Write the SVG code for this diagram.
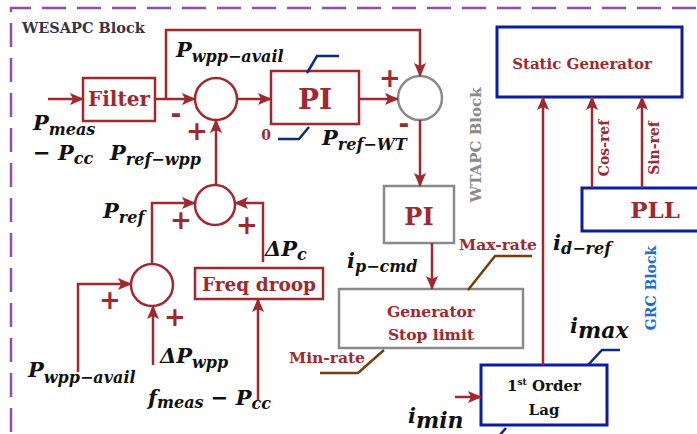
<svg xmlns="http://www.w3.org/2000/svg" width="697" height="434" viewBox="0 0 697 434">
<style>
.bd{fill:none;stroke:#8e4fb5;stroke-width:2.5;stroke-dasharray:24 11}
.rb{fill:#fff;stroke:#a0282e;stroke-width:2.5}
.gb{fill:#fff;stroke:#8a8a8a;stroke-width:2.5}
.bb{fill:#fff;stroke:#0b1f9e;stroke-width:3}
.w{fill:none;stroke:#a0282e;stroke-width:2.5}
.lim{fill:none;stroke:#0d2a80;stroke-width:2.5}
.br{fill:none;stroke:#7a3d0a;stroke-width:2.5}
.t{font-family:"DejaVu Serif",serif;font-weight:bold;fill:#a0282e;text-anchor:middle}
.k{font-family:"DejaVu Serif",serif;font-weight:bold;fill:#111;text-anchor:middle}
.m{font-family:"DejaVu Serif",serif;font-weight:bold;font-style:italic;fill:#111;font-size:21px}
.s{font-size:16px}
.sg{font-family:"DejaVu Sans",sans-serif;font-weight:bold;fill:#a0282e;font-size:26px;text-anchor:middle;dominant-baseline:central}
</style>
<defs>
<marker id="ar" markerUnits="userSpaceOnUse" markerWidth="14" markerHeight="12" refX="13" refY="6" orient="auto">
<path d="M0,0 L14,6 L0,12 L3,6 Z" fill="#a0282e"/>
</marker>
</defs>

<path class="bd" d="M11,432 V8 H697"/>
<text x="22" y="33" font-family="DejaVu Serif,serif" font-weight="bold" font-size="14.5" fill="#3b3148">WESAPC Block</text>

<g id="filter"><rect class="rb" x="83" y="78" width="72" height="43"/><text class="t" x="119" y="106" font-size="20">Filter</text></g>
<g id="sum1"><circle class="rb" cx="216" cy="99" r="21"/></g>
<g id="pi1"><rect class="rb" x="271" y="71" width="88" height="53"/><text class="t" x="315" y="109" font-size="28">PI</text>
<path class="lim" d="M307,73 L317,56 H339"/><path class="lim" d="M309,127 L299,139 H278"/>
<text class="t" x="266" y="140" font-size="14">0</text></g>
<g id="sum2"><circle cx="420" cy="98" r="22" fill="#fff" stroke="#8a8a8a" stroke-width="2.5"/></g>
<g id="pi2"><rect class="gb" x="384" y="186" width="70" height="57"/><text class="t" x="419" y="225" font-size="24">PI</text></g>
<g id="gen"><rect class="gb" x="339" y="289" width="184" height="59"/>
<text class="t" x="431" y="317" font-size="15.5">Generator</text><text class="t" x="431" y="340" font-size="15.5">Stop limit</text>
<path class="br" d="M468,290 L495,256 H532"/><text class="t" x="498" y="250" font-size="15.5">Max-rate</text>
<path class="br" d="M384,350 L358,373 H320"/><text class="t" x="327" y="363" font-size="15.5">Min-rate</text></g>
<text class="t" transform="translate(481,145) rotate(-90)" font-size="15" style="fill:#8a8a8a">WTAPC Block</text>
<g id="static"><rect class="bb" x="497" y="27" width="185" height="70"/><text class="t" x="582" y="69" font-size="15">Static Generator</text></g>
<g id="pll"><rect class="bb" x="582" y="188" width="125" height="43"/><text class="t" x="655" y="218" font-size="23">PLL</text></g>
<g id="lag"><rect class="bb" x="481" y="365" width="126" height="60"/>
<text class="k" x="544" y="391" font-size="15">1<tspan font-size="9" dy="-6">st</tspan><tspan dy="6"> Order</tspan></text>
<text class="k" x="544" y="415" font-size="15">Lag</text>
<path class="lim" d="M588,365 L602,350 H620"/><path class="lim" d="M506,428 L499,436"/></g>
<text class="t" transform="translate(656,288) rotate(-90)" font-size="14" style="fill:#1a6fd0">GRC Block</text>
<g id="sum3"><circle class="rb" cx="215" cy="205" r="20"/></g>
<g id="sum4"><circle class="rb" cx="152" cy="285" r="21"/></g>
<g id="droop"><rect class="rb" x="195" y="268" width="128" height="31"/><text class="t" x="259" y="291" font-size="18.5">Freq droop</text></g>

<g id="connectors">
<path class="w" d="M48,99 H83" marker-end="url(#ar)"/>
<path class="w" d="M155,99 H195" marker-end="url(#ar)"/>
<path class="w" d="M166,99 V30 H420 V76" marker-end="url(#ar)"/>
<path class="w" d="M237,99 H271" marker-end="url(#ar)"/>
<path class="w" d="M359,99 H398" marker-end="url(#ar)"/>
<path class="w" d="M420,120 V186" marker-end="url(#ar)"/>
<path class="w" d="M432,243 V289" marker-end="url(#ar)"/>
<path class="w" d="M543,365 V97" marker-end="url(#ar)"/>
<path class="w" d="M592,188 V97" marker-end="url(#ar)"/>
<path class="w" d="M642,188 V97" marker-end="url(#ar)"/>
<path class="w" d="M455,397 H481" marker-end="url(#ar)"/>
<path class="w" d="M216,185 V120" marker-end="url(#ar)"/>
<path class="w" d="M152,264 V203 H195" marker-end="url(#ar)"/>
<path class="w" d="M263,262 V203 H235" marker-end="url(#ar)"/>
<path class="w" d="M78,372 V284 H131" marker-end="url(#ar)"/>
<path class="w" d="M153,365 V306" marker-end="url(#ar)"/>
<path class="w" d="M258,400 V299" marker-end="url(#ar)"/>
</g>

<text class="t" transform="translate(609,148) rotate(-90)" font-size="14">Cos-ref</text>
<text class="t" transform="translate(659,148) rotate(-90)" font-size="14">Sin-ref</text>

<text class="sg" x="176" y="114">-</text>
<text class="sg" x="197" y="131">+</text>
<text class="sg" x="390" y="78">+</text>
<text class="sg" x="404" y="124">-</text>
<text class="sg" x="181" y="220">+</text>
<text class="sg" x="247" y="225">+</text>
<text class="sg" x="110" y="300">+</text>
<text class="sg" x="175" y="317">+</text>

<text class="m" x="33" y="130">P<tspan class="s" dy="5">meas</tspan></text>
<text class="m" x="33" y="160">− P<tspan class="s" dy="4">cc</tspan></text>
<text class="m" x="176" y="57">P<tspan class="s" dy="5">wpp−avail</tspan></text>
<text class="m" x="110" y="160">P<tspan class="s" dy="5">ref−wpp</tspan></text>
<text class="m" x="322" y="145">P<tspan class="s" dy="5">ref−WT</tspan></text>
<text class="m" x="103" y="218">P<tspan class="s" dy="5">ref</tspan></text>
<text class="m" x="265" y="256">ΔP<tspan class="s" dy="4">c</tspan></text>
<text class="m" x="160" y="363">ΔP<tspan class="s" dy="5">wpp</tspan></text>
<text class="m" x="28" y="377">P<tspan class="s" dy="6">wpp−avail</tspan></text>
<text class="m" x="148" y="405">f<tspan class="s" dy="3">meas</tspan><tspan dy="-3"> − P</tspan><tspan class="s" dy="4">cc</tspan></text>
<text class="m" x="347" y="268">i<tspan class="s" dy="4">p−cmd</tspan></text>
<text class="m" x="553" y="250">i<tspan class="s" dy="4">d−ref</tspan></text>
<text class="m" x="570" y="333" font-size="30">i<tspan font-size="22" dy="5">max</tspan></text>
<text class="m" x="408" y="423" font-size="30">i<tspan font-size="22" dy="5">min</tspan></text>
</svg>
